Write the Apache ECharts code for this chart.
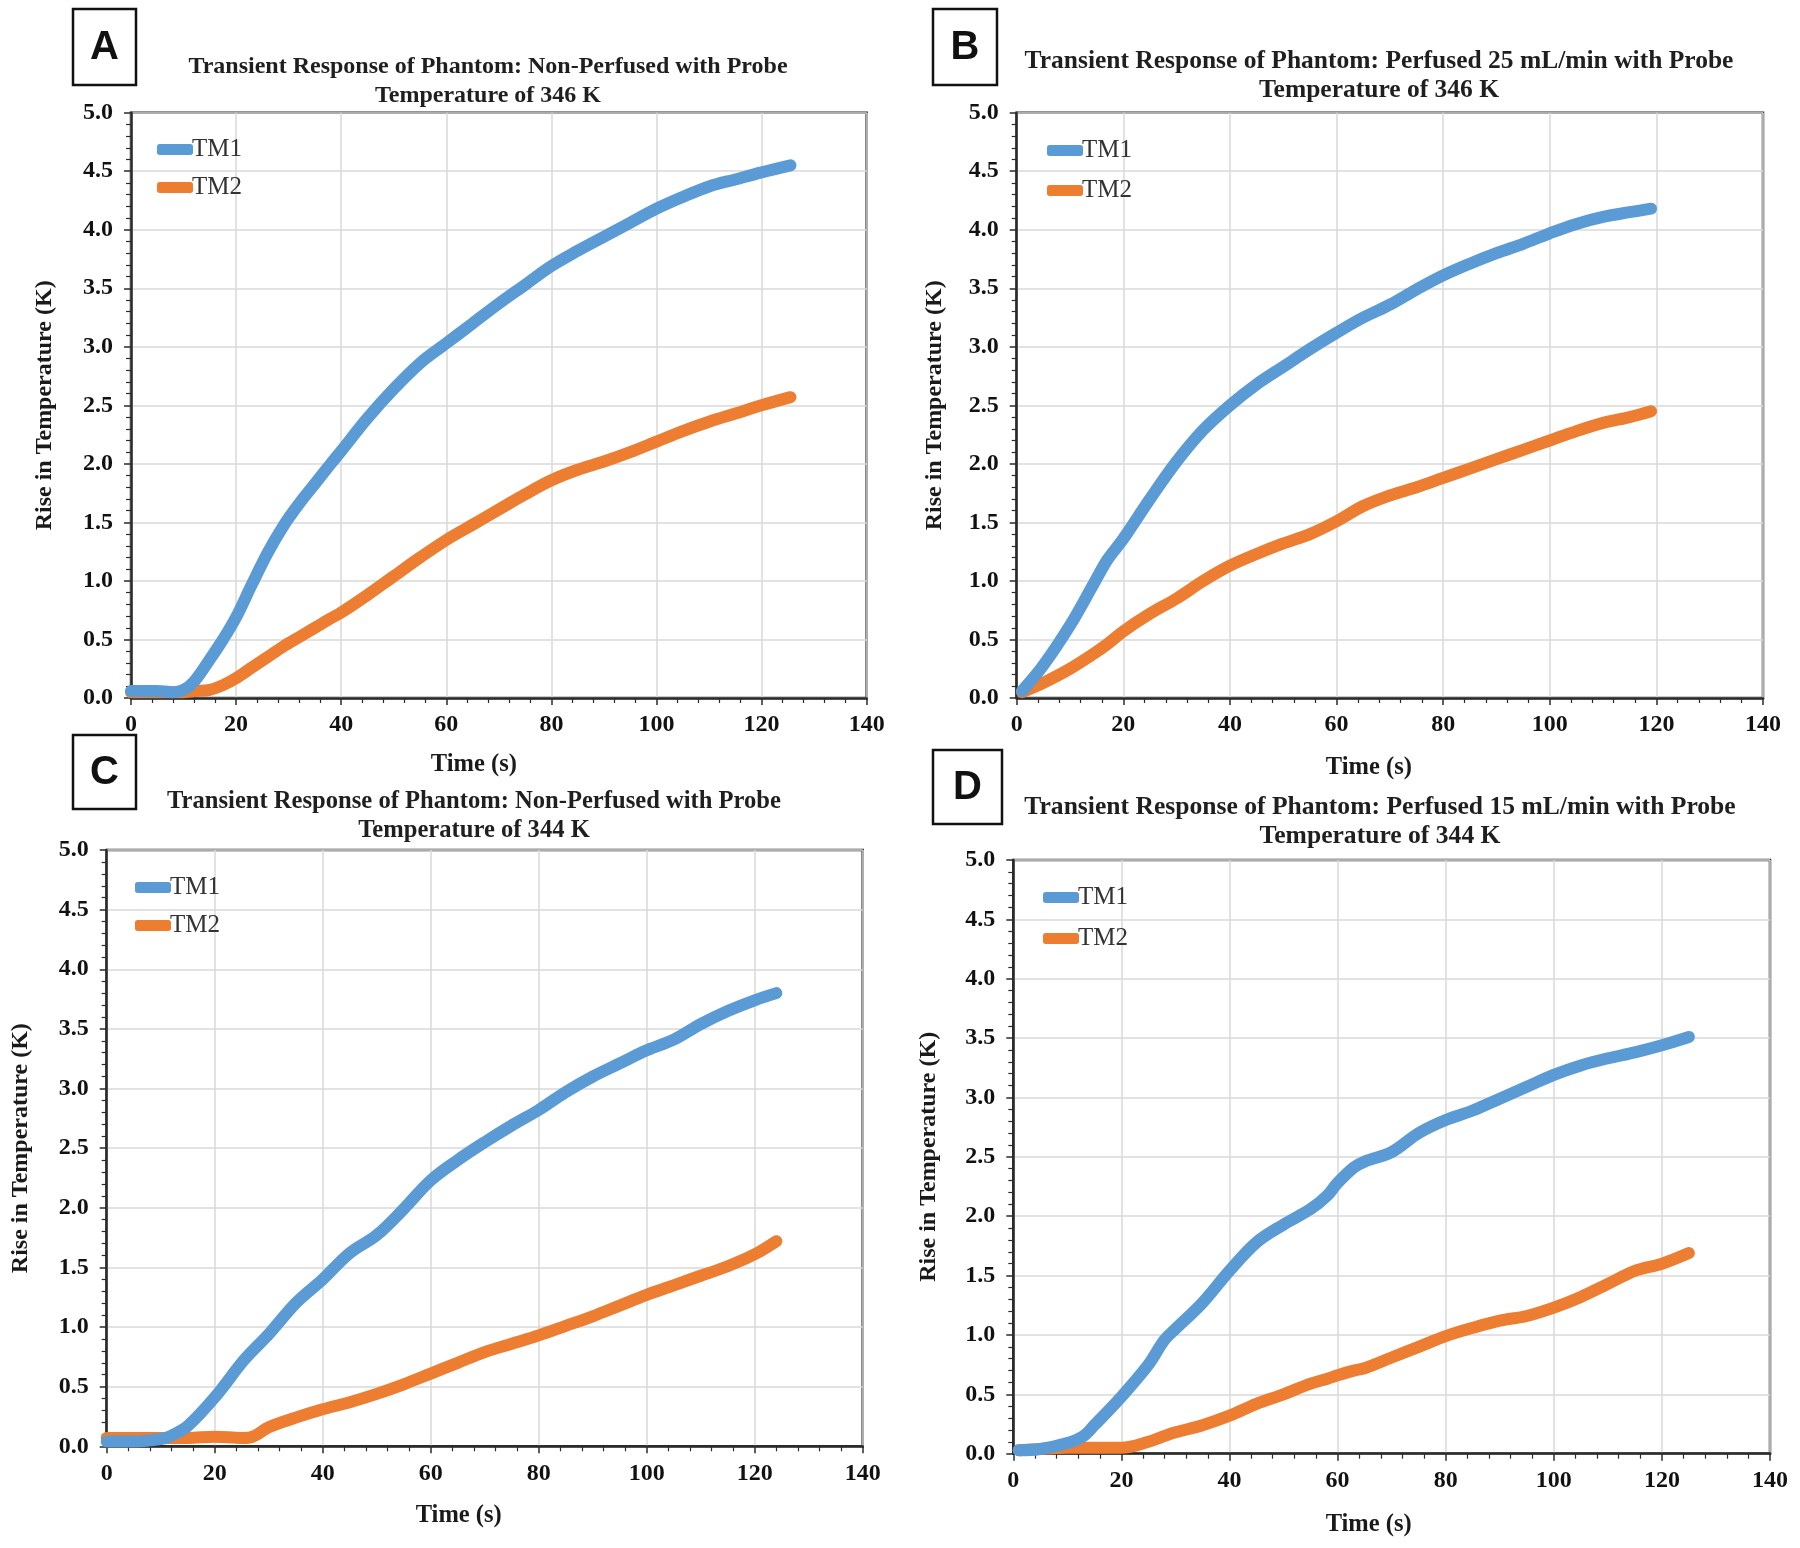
<!DOCTYPE html>
<html>
<head>
<meta charset="utf-8">
<script src="https://cdn.jsdelivr.net/npm/echarts@6/dist/echarts.min.js"></script>
<style>
html,body{margin:0;padding:0;background:#fff;}
#chart{width:1800px;height:1548px;}
</style>
</head>
<body>
<div id="chart"></div>
<script>
// ---------- data ----------
const seriesNames = ['TM1', 'TM2'];
const xTicks = [0, 20, 40, 60, 80, 100, 120, 140];
const yTicks = [0.0, 0.5, 1.0, 1.5, 2.0, 2.5, 3.0, 3.5, 4.0, 4.5, 5.0];

const panelLetters = ['A', 'B', 'C', 'D'];
const panelTitles = [
  'Transient Response of Phantom: Non-Perfused with Probe\nTemperature of 346 K',
  'Transient Response of Phantom: Perfused 25 mL/min with Probe\nTemperature of 346 K',
  'Transient Response of Phantom: Non-Perfused with Probe\nTemperature of 344 K',
  'Transient Response of Phantom: Perfused 15 mL/min with Probe\nTemperature of 344 K'
];
const xAxisTitle = 'Time (s)';
const yAxisTitle = 'Rise in Temperature (K)';

// Panel A
const timeA = [0, 5, 8, 10, 12, 15, 17.5, 20, 23, 26, 29, 32, 35, 38, 40, 45, 50, 55, 60, 65, 70, 75, 80, 85, 90, 95, 100, 105, 110, 115, 120, 125.5];
const tm1A  = [0.06, 0.06, 0.05, 0.07, 0.14, 0.33, 0.5, 0.69, 0.97, 1.24, 1.47, 1.66, 1.83, 2.0, 2.11, 2.39, 2.64, 2.86, 3.03, 3.2, 3.37, 3.53, 3.69, 3.82, 3.94, 4.06, 4.18, 4.28, 4.37, 4.43, 4.49, 4.55];
const tm2A  = [0.05, 0.05, 0.05, 0.05, 0.06, 0.07, 0.11, 0.17, 0.26, 0.35, 0.44, 0.52, 0.6, 0.68, 0.73, 0.88, 1.04, 1.2, 1.35, 1.48, 1.61, 1.74, 1.86, 1.95, 2.02, 2.1, 2.19, 2.28, 2.36, 2.43, 2.5, 2.57];

// Panel B
const timeB = [1, 5, 10, 14.5, 17, 20, 25, 30, 35, 40, 45, 50, 55, 60, 65, 70, 75, 80, 85, 90, 95, 100, 105, 110, 115, 119];
const tm1B  = [0.06, 0.28, 0.62, 0.98, 1.18, 1.36, 1.7, 2.02, 2.29, 2.5, 2.68, 2.83, 2.98, 3.12, 3.25, 3.36, 3.49, 3.61, 3.71, 3.8, 3.88, 3.97, 4.05, 4.11, 4.15, 4.18];
const tm2B  = [0.05, 0.13, 0.25, 0.38, 0.46, 0.57, 0.72, 0.85, 1.0, 1.13, 1.23, 1.32, 1.4, 1.51, 1.64, 1.73, 1.8, 1.88, 1.96, 2.04, 2.12, 2.2, 2.28, 2.35, 2.4, 2.45];

// Panel C
const timeC = [0, 5, 10, 12, 15, 20, 25, 27, 30, 35, 40, 45, 50, 55, 60, 65, 70, 75, 80, 85, 90, 95, 100, 105, 110, 115, 120, 124];
const tm1C  = [0.04, 0.04, 0.06, 0.09, 0.17, 0.41, 0.7, 0.8, 0.94, 1.2, 1.4, 1.62, 1.77, 1.99, 2.23, 2.4, 2.55, 2.69, 2.82, 2.97, 3.1, 3.21, 3.32, 3.41, 3.54, 3.65, 3.74, 3.8];
const tm2C  = [0.07, 0.07, 0.07, 0.07, 0.07, 0.08, 0.07, 0.08, 0.16, 0.24, 0.31, 0.37, 0.44, 0.52, 0.61, 0.7, 0.79, 0.86, 0.93, 1.01, 1.09, 1.18, 1.27, 1.35, 1.43, 1.51, 1.61, 1.72];

// Panel D
const timeD = [1, 5, 10, 13, 15, 20, 25, 28, 30, 35, 40, 45, 50, 55, 58, 60, 63, 65, 70, 75, 80, 85, 90, 95, 100, 105, 110, 115, 120, 125];
const tm1D  = [0.03, 0.04, 0.09, 0.15, 0.24, 0.48, 0.75, 0.96, 1.05, 1.27, 1.54, 1.78, 1.93, 2.06, 2.17, 2.28, 2.41, 2.46, 2.54, 2.7, 2.81, 2.89, 2.99, 3.09, 3.19, 3.27, 3.33, 3.38, 3.44, 3.51];
const tm2D  = [0.03, 0.04, 0.05, 0.05, 0.05, 0.05, 0.1, 0.15, 0.18, 0.24, 0.32, 0.42, 0.5, 0.59, 0.63, 0.66, 0.7, 0.72, 0.81, 0.9, 0.99, 1.06, 1.12, 1.16, 1.23, 1.32, 1.43, 1.54, 1.6, 1.69];

const panelData = [
  {t: timeA, s: [tm1A, tm2A]},
  {t: timeB, s: [tm1B, tm2B]},
  {t: timeC, s: [tm1C, tm2C]},
  {t: timeD, s: [tm1D, tm2D]}
];

// ---------- layout / style ----------
const colors = ['#5B9BD5', '#ED7D31'];
const serif = "'Liberation Serif', 'Times New Roman', serif";
const layout = [
  {left: 131,    top: 112.7, width: 735.7, height: 585.3, legL: 157,  legT: 137, legGap: 13, xName: 50, xGap: 54, yGap: 74,
   box: [73, 9, 63, 76],  title: [488, 67], tfs: 24},
  {left: 1016.7, top: 112.7, width: 746.3, height: 585.3, legL: 1047, legT: 138, legGap: 15, xName: 42, xGap: 57, yGap: 70,
   box: [933, 9, 64, 76], title: [1379, 62], tfs: 25.5},
  {left: 106.7,  top: 850,   width: 756,   height: 596.3, legL: 135,  legT: 875, legGap: 13, xName: 52, xGap: 57, yGap: 74,
   box: [73, 735, 63, 74], title: [474, 802], tfs: 24.6},
  {left: 1013.3, top: 860,   width: 756.7, height: 593.7, legL: 1043, legT: 885, legGap: 16, xName: 46, xGap: 58, yGap: 73,
   box: [933, 750, 69, 74], title: [1380, 808], tfs: 25.6}
];

const grids = [], xAxes = [], yAxes = [], series = [], legends = [], graphics = [];
layout.forEach((L, i) => {
  grids.push({left: L.left, top: L.top, width: L.width, height: L.height,
    show: true, borderColor: '#2b2b2b', borderWidth: 2.5, backgroundColor: 'transparent', containLabel: false});
  xAxes.push({
    gridIndex: i, type: 'value', min: xTicks[0], max: xTicks[xTicks.length - 1], interval: xTicks[1] - xTicks[0],
    name: xAxisTitle, nameLocation: 'middle', nameGap: L.xGap,
    nameTextStyle: {fontFamily: serif, fontWeight: 'bold', fontSize: 24.5, color: '#1a1a1a', padding: [0, L.xName, 0, 0]},
    axisLine: {show: true, onZero: false, lineStyle: {color: '#2b2b2b', width: 2.5}},
    axisTick: {show: true, inside: false, length: 7, lineStyle: {color: '#2b2b2b', width: 1.5}},
    minorTick: {show: true, splitNumber: 5, length: 5, lineStyle: {color: '#2b2b2b', width: 1.2}},
    axisLabel: {fontFamily: serif, fontWeight: 'bold', fontSize: 24, color: '#111', margin: 15},
    splitLine: {show: true, lineStyle: {color: '#d9d9d9', width: 1.5}}
  });
  yAxes.push({
    gridIndex: i, type: 'value', min: yTicks[0], max: yTicks[yTicks.length - 1], interval: yTicks[1] - yTicks[0],
    name: yAxisTitle, nameLocation: 'middle', nameGap: L.yGap,
    nameTextStyle: {fontFamily: serif, fontWeight: 'bold', fontSize: 24, color: '#1a1a1a'},
    axisLine: {show: true, onZero: false, lineStyle: {color: '#2b2b2b', width: 2.5}},
    axisTick: {show: true, inside: false, length: 7, lineStyle: {color: '#2b2b2b', width: 1.5}},
    minorTick: {show: true, splitNumber: 5, length: 5, lineStyle: {color: '#2b2b2b', width: 1.2}},
    axisLabel: {fontFamily: serif, fontWeight: 'bold', fontSize: 24, color: '#111', margin: 18,
      formatter: v => v.toFixed(1)},
    splitLine: {show: true, lineStyle: {color: '#d9d9d9', width: 1.5}}
  });
  const P = panelData[i];
  P.s.forEach((vals, k) => {
    series.push({
      name: seriesNames[k], type: 'line', xAxisIndex: i, yAxisIndex: i,
      data: P.t.map((t, j) => [t, vals[j]]),
      showSymbol: false, symbol: 'none', smooth: 0.35,
      lineStyle: {color: colors[k], width: 12, cap: 'round', join: 'round'},
      itemStyle: {color: colors[k]},
      z: 3 - k, animation: false
    });
  });
  legends.push({
    orient: 'vertical', left: L.legL, top: L.legT, padding: 0, itemGap: L.legGap,
    icon: 'roundRect', itemWidth: 36, itemHeight: 11, data: seriesNames,
    textStyle: {fontFamily: serif, fontSize: 25, color: '#333', padding: [0, 0, 0, -6]},
    selectedMode: false
  });
  // panel letter box
  const b = L.box;
  graphics.push({type: 'rect', shape: {x: b[0], y: b[1], width: b[2], height: b[3]},
    style: {fill: '#fff', stroke: '#111', lineWidth: 2.5}});
  graphics.push({type: 'text', x: b[0] + b[2] / 2, y: b[1] + b[3] / 2 + 1,
    style: {text: panelLetters[i], fontFamily: "'Liberation Sans', Arial, sans-serif", fontWeight: 'bold', fontSize: 40,
      fill: '#111', align: 'center', verticalAlign: 'middle'}});
  // panel title
  graphics.push({type: 'text', x: L.title[0], y: L.title[1] - 15,
    style: {text: panelTitles[i], fontFamily: serif, fontWeight: 'bold', fontSize: L.tfs, lineHeight: 29,
      fill: '#1f1f1f', align: 'center', verticalAlign: 'top'}});
});

const chart = echarts.init(document.getElementById('chart'), null, {renderer: 'canvas'});
chart.setOption({
  animation: false,
  backgroundColor: '#fff',
  grid: grids, xAxis: xAxes, yAxis: yAxes, series: series, legend: legends,
  graphic: graphics
});
</script>
</body>
</html>
